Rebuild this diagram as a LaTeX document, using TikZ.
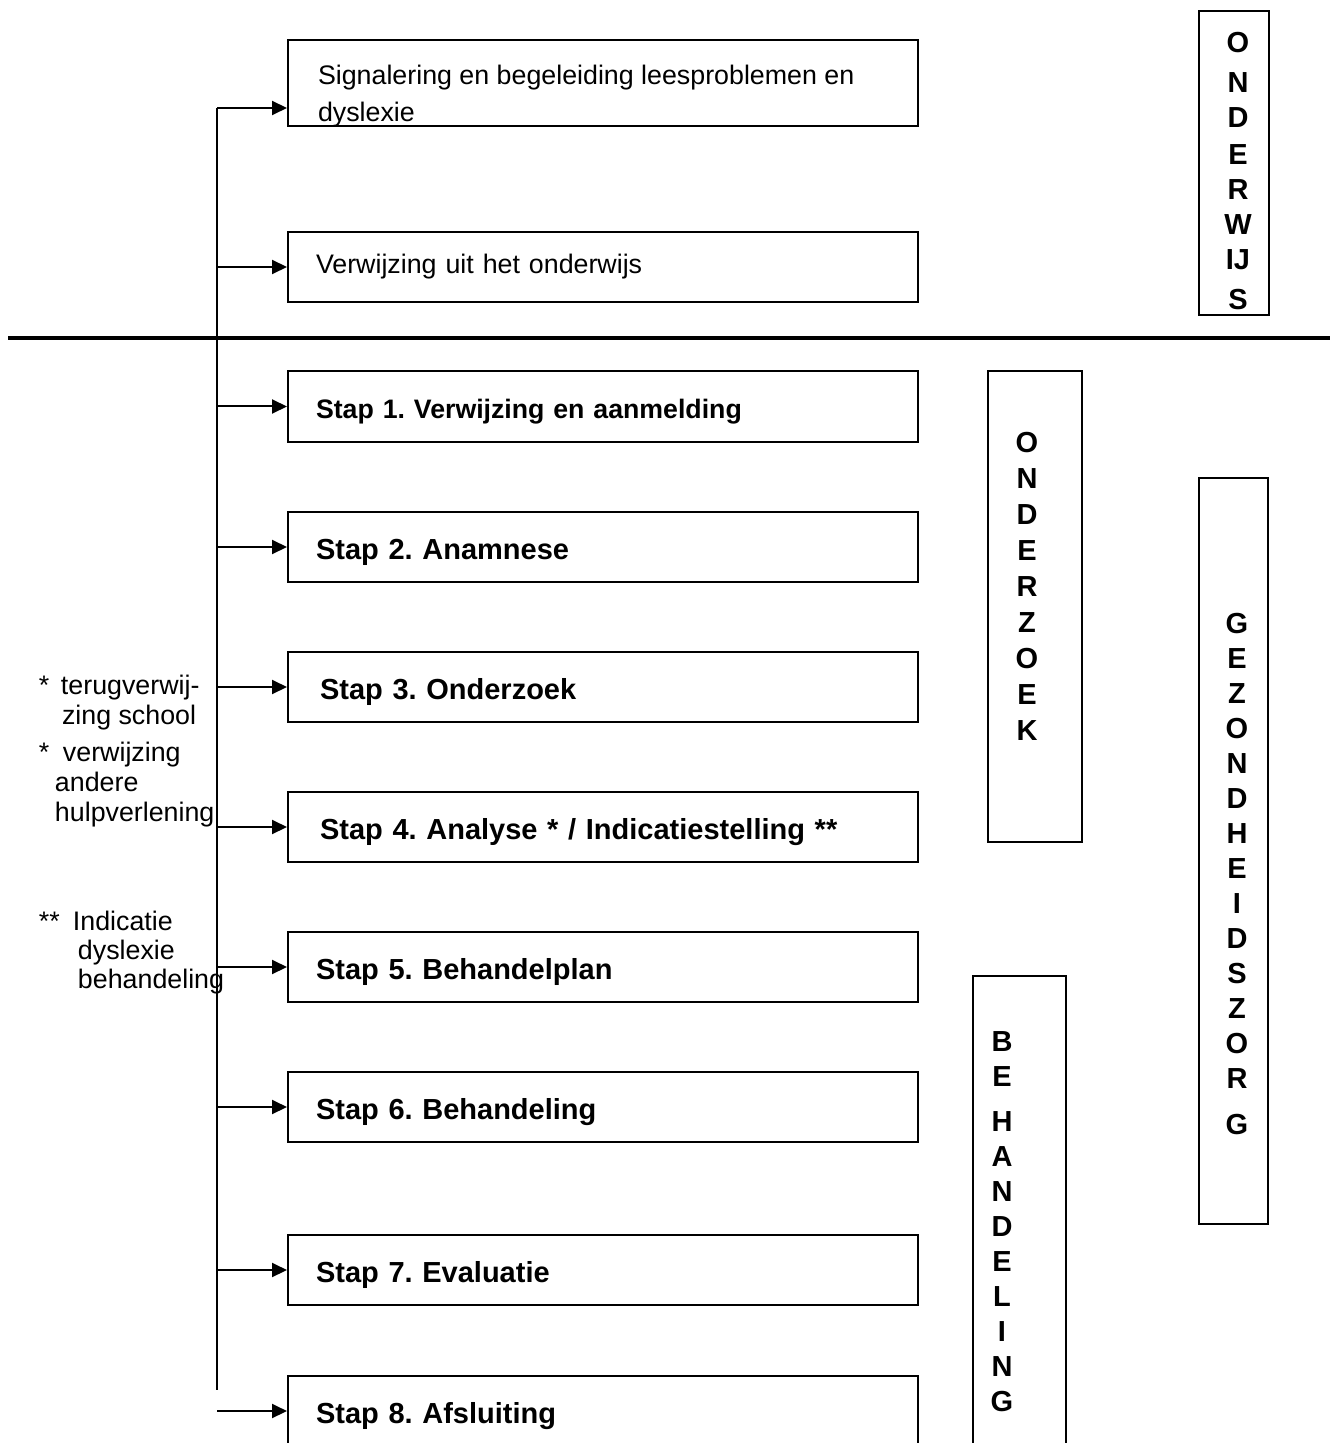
\documentclass[tikz,border=0pt]{standalone}
\usepackage{fontspec}
\setmainfont{Liberation Sans}
\usetikzlibrary{arrows.meta,positioning}
\frenchspacing

\begin{document}
\begin{tikzpicture}[x=0.5pt,y=-0.5pt,>={Triangle[length=7.5pt,width=7pt]},line width=1pt,
    box/.style={draw,rectangle,minimum width=315pt,minimum height=35pt,inner xsep=14pt,
      text width=287pt,align=left,font=\fontsize{13.4}{18.5}\selectfont},
    stepbox/.style={box,text height=12.35pt,text depth=0pt,font=\bfseries\fontsize{14.5}{17}\selectfont},
    sidebox/.style={draw,rectangle,inner sep=0pt},
    vertword/.style={align=center,inner sep=0pt,font=\bfseries\fontsize{14.5}{17.5}\selectfont},
    note/.style={align=left,inner sep=0pt,anchor=north west,font=\fontsize{13.4}{15}\selectfont}]

      \useasboundingbox (0,0) rectangle (1330,1443);

      % onderwijs
      \node[box,minimum height=43pt] (b0) at (603,83) {};
      \node[note,font=\fontsize{13.4}{18.5}\selectfont] (b0txt) at (317,64)
        {Signalering en begeleiding leesproblemen en\\dyslexie};
      \node[box] (b1) at (603,267) {Verwijzing uit het onderwijs};

      \draw[line width=2pt] (8,338) -- (1330,338);

      % stappen
      \node[stepbox,font=\bfseries\fontsize{13.35}{16}\selectfont] (s1) at (603,406.5) {Stap 1. Verwijzing en aanmelding};
      \node[stepbox] (s2) at (603,547) {Stap 2. Anamnese};
      \node[stepbox] (s3) at (603,687) {\hspace*{2pt}Stap 3. Onderzoek};
      \node[stepbox] (s4) at (603,827) {\hspace*{2pt}Stap 4. Analyse * / Indicatiestelling **};
      \node[stepbox] (s5) at (603,967) {Stap 5. Behandelplan};
      \node[stepbox] (s6) at (603,1107) {Stap 6. Behandeling};
      \node[stepbox] (s7) at (603,1270) {Stap 7. Evaluatie};
      \node[stepbox] (s8) at (603,1411) {Stap 8. Afsluiting};

      \coordinate (top) at (217,108);
      \coordinate (bottom) at (217,1390);
      \coordinate (loose) at (217,1411);
      \draw (top) -- (bottom);
      \path[->]
        (top) edge (top -| b0.west)
        (top |- b1.west) edge (b1.west)
        (top |- s1.west) edge (s1.west)
        (top |- s2.west) edge (s2.west)
        (top |- s3.west) edge (s3.west)
        (top |- s4.west) edge (s4.west)
        (top |- s5.west) edge (s5.west)
        (top |- s6.west) edge (s6.west)
        (top |- s7.west) edge (s7.west)
        (loose) edge (s8.west);

      % zijbalken
      \node[sidebox,minimum width=35pt,minimum height=152pt] (onderwijs) at (1234,163) {};
      \node[vertword] (onderwijstxt) at (1238,171.5) {O\\[2.5pt]N\\D\\[1pt]E\\R\\W\\IJ\\[2.5pt]S};
      \node[sidebox,minimum width=47pt,minimum height=235.5pt] (onderzoek) at (1035,606.5) {};
      \node[vertword,font=\bfseries\fontsize{14.5}{18}\selectfont] (onderzoektxt) at (1027,586) {O\\N\\D\\E\\R\\Z\\O\\E\\K};
      \node[sidebox,minimum width=34.5pt,minimum height=373pt] (zorg) at (1233.5,851) {};
      \node[vertword] (zorgtxt) at (1237,874) {G\\E\\Z\\O\\N\\D\\H\\E\\I\\D\\S\\Z\\O\\R\\[5.5pt]G};
      \node[sidebox,minimum width=46.5pt,minimum height=252pt] (behandeling) at (1019.5,1228) {};
      \node[vertword] (behandelingtxt) at (1002,1222) {B\\E\\[5pt]H\\A\\N\\D\\E\\L\\I\\N\\G};

      % voetnoten
      \node[note] (note1) at (38,674) {\makebox[11pt][l]{*}terugverwij-\\
        \hspace*{11.5pt}zing school\\[3.5pt]
        \makebox[12pt][l]{*}verwijzing\\
        \hspace*{8pt}andere\\
        \hspace*{8pt}hulpverlening};
      \node[note,font=\fontsize{13.4}{14.5}\selectfont] (note2) at (38,910) {\makebox[17pt][l]{**}Indicatie\\
        \hspace*{19.5pt}dyslexie\\
        \hspace*{19.5pt}behandeling};
    \end{tikzpicture}
\end{document}
